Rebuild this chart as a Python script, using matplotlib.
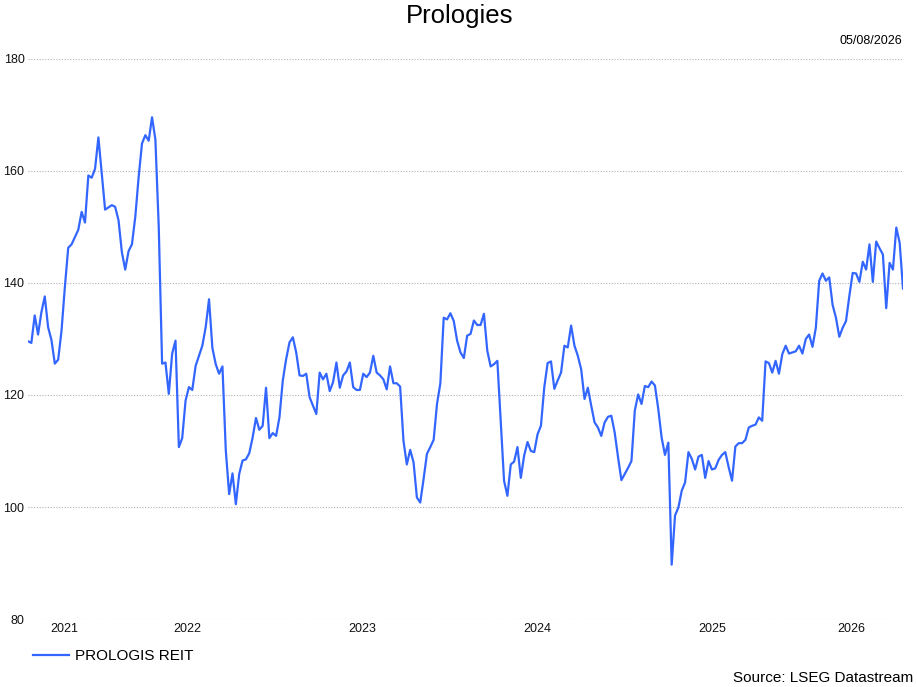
import matplotlib
matplotlib.use("Agg")
import matplotlib.pyplot as plt
import matplotlib.dates as mdates
import numpy as np
import pandas as pd

plt.rcParams['font.family'] = ['Liberation Sans', 'DejaVu Sans']

# weekly closing prices, Aug 2021 -> Aug 2026
prices = [
    129.6, 129.3, 134.2, 130.8, 134.8, 137.6, 132.1, 129.8, 125.6, 126.3,
    131.5, 139.3, 146.3, 146.9, 148.2, 149.5, 152.7, 150.8, 159.2, 158.8,
    160.4, 166.0, 159.5, 153.1, 153.5, 153.9, 153.6, 151.2, 145.5, 142.4,
    145.7, 146.9, 151.8, 158.9, 164.9, 166.4, 165.4, 169.6, 165.6, 150.0,
    125.6, 125.8, 120.2, 127.4, 129.7, 110.7, 112.3, 119.0, 121.4, 120.9,
    125.2, 127.0, 128.8, 132.1, 137.1, 128.4, 125.5, 123.8, 125.1, 110.1,
    102.3, 106.0, 100.5, 105.9, 108.3, 108.5, 109.6, 112.4, 115.9, 113.8,
    114.5, 121.3, 112.3, 113.2, 112.7, 116.0, 122.6, 126.4, 129.4, 130.3,
    127.6, 123.5, 123.4, 123.8, 119.6, 118.1, 116.6, 124.0, 122.8, 123.8,
    120.7, 122.3, 125.8, 121.3, 123.5, 124.2, 125.8, 121.4, 120.9, 120.9,
    123.8, 123.2, 124.0, 127.0, 124.0, 123.5, 122.8, 121.0, 125.1, 122.1,
    122.1, 121.5, 111.8, 107.6, 110.2, 108.0, 101.7, 100.8, 105.0, 109.5,
    110.7, 112.0, 118.4, 122.1, 133.8, 133.5, 134.6, 133.2, 129.7, 127.6,
    126.6, 130.6, 130.9, 133.3, 132.5, 132.5, 134.5, 127.9, 125.1, 125.5,
    126.1, 115.4, 104.7, 102.0, 107.6, 108.1, 110.7, 105.2, 109.2, 111.6,
    110.0, 109.8, 113.0, 114.5, 121.4, 125.7, 126.0, 121.1, 122.6, 124.0,
    128.8, 128.5, 132.4, 128.8, 127.0, 124.6, 119.3, 121.3, 118.1, 115.1,
    114.2, 112.7, 115.1, 116.1, 116.3, 113.3, 108.9, 104.8, 105.9, 107.0,
    108.2, 117.2, 120.1, 118.4, 121.6, 121.4, 122.4, 121.7, 117.5, 112.4,
    109.3, 111.5, 89.7, 98.5, 99.9, 102.9, 104.4, 109.8, 108.6, 106.7,
    109.0, 109.3, 105.2, 108.2, 106.7, 106.9, 108.4, 109.3, 109.8, 107.1,
    104.7, 110.8, 111.4, 111.4, 112.0, 114.2, 114.5, 114.7, 116.0, 115.4,
    126.0, 125.7, 124.0, 126.1, 123.8, 127.3, 128.8, 127.4, 127.6, 127.8,
    128.8, 127.4, 130.0, 130.8, 128.6, 132.0, 140.4, 141.7, 140.4, 141.0,
    136.1, 133.8, 130.4, 132.0, 133.2, 137.7, 141.8, 141.7, 140.2, 143.8,
    142.4, 146.9, 140.2, 147.4, 146.2, 145.1, 135.5, 143.6, 142.4, 149.9,
    147.2, 139.0,
]
end_date = "2026-08-05"
series_name = "PROLOGIS REIT"
chart_title = "Prologies"
date_label = "05/08/2026"
source_label = "Source: LSEG Datastream"
y_ticks = [80, 100, 120, 140, 160, 180]

dates = pd.date_range(end=end_date, periods=len(prices), freq="7D")

fig = plt.figure(figsize=(9.17, 6.87), dpi=100)
ax = fig.add_axes([28 / 917, 1 - 619 / 687, (903 - 28) / 917, (619 - 59) / 687])

line, = ax.plot(dates, prices, color="#3366ff", lw=1.6, label=series_name)

ax.set_ylim(80, 180)
ax.set_xlim(dates[0], dates[-1])
ax.set_yticks(y_ticks)
ax.yaxis.grid(True, linestyle=(0, (1, 1.5)), color="#b0b0b0", lw=0.8)
ax.set_axisbelow(True)
for s in ax.spines.values():
    s.set_visible(False)

# year labels centred on the visible part of each year
years = range(dates[0].year, dates[-1].year + 1)
mids = []
for y in years:
    a = max(pd.Timestamp(f"{y}-01-01"), dates[0])
    b = min(pd.Timestamp(f"{y + 1}-01-01"), dates[-1])
    mids.append(a + (b - a) / 2)
ax.set_xticks([mdates.date2num(m) for m in mids])
ax.set_xticklabels([str(y) for y in years])
ax.tick_params(axis="both", length=0, labelsize=9, colors="#111111")
ax.tick_params(axis="y", pad=2.5)
ax.tick_params(axis="x", pad=3)

fig.text(460 / 917, 1 - 16 / 687, chart_title, ha="center", va="center", fontsize=18.5)
fig.text(902 / 917, 1 - 41 / 687, date_label, ha="right", va="center", fontsize=9)
fig.text(913 / 917, 1 - 678 / 687, source_label, ha="right", va="center", fontsize=11)

fig.legend(handles=[line], loc="center left", bbox_to_anchor=(33 / 917, 1 - 656 / 687),
           frameon=False, fontsize=11, handlelength=2.35, handletextpad=0.4,
           borderpad=0, borderaxespad=0)

fig.savefig("out.png", dpi=100)
